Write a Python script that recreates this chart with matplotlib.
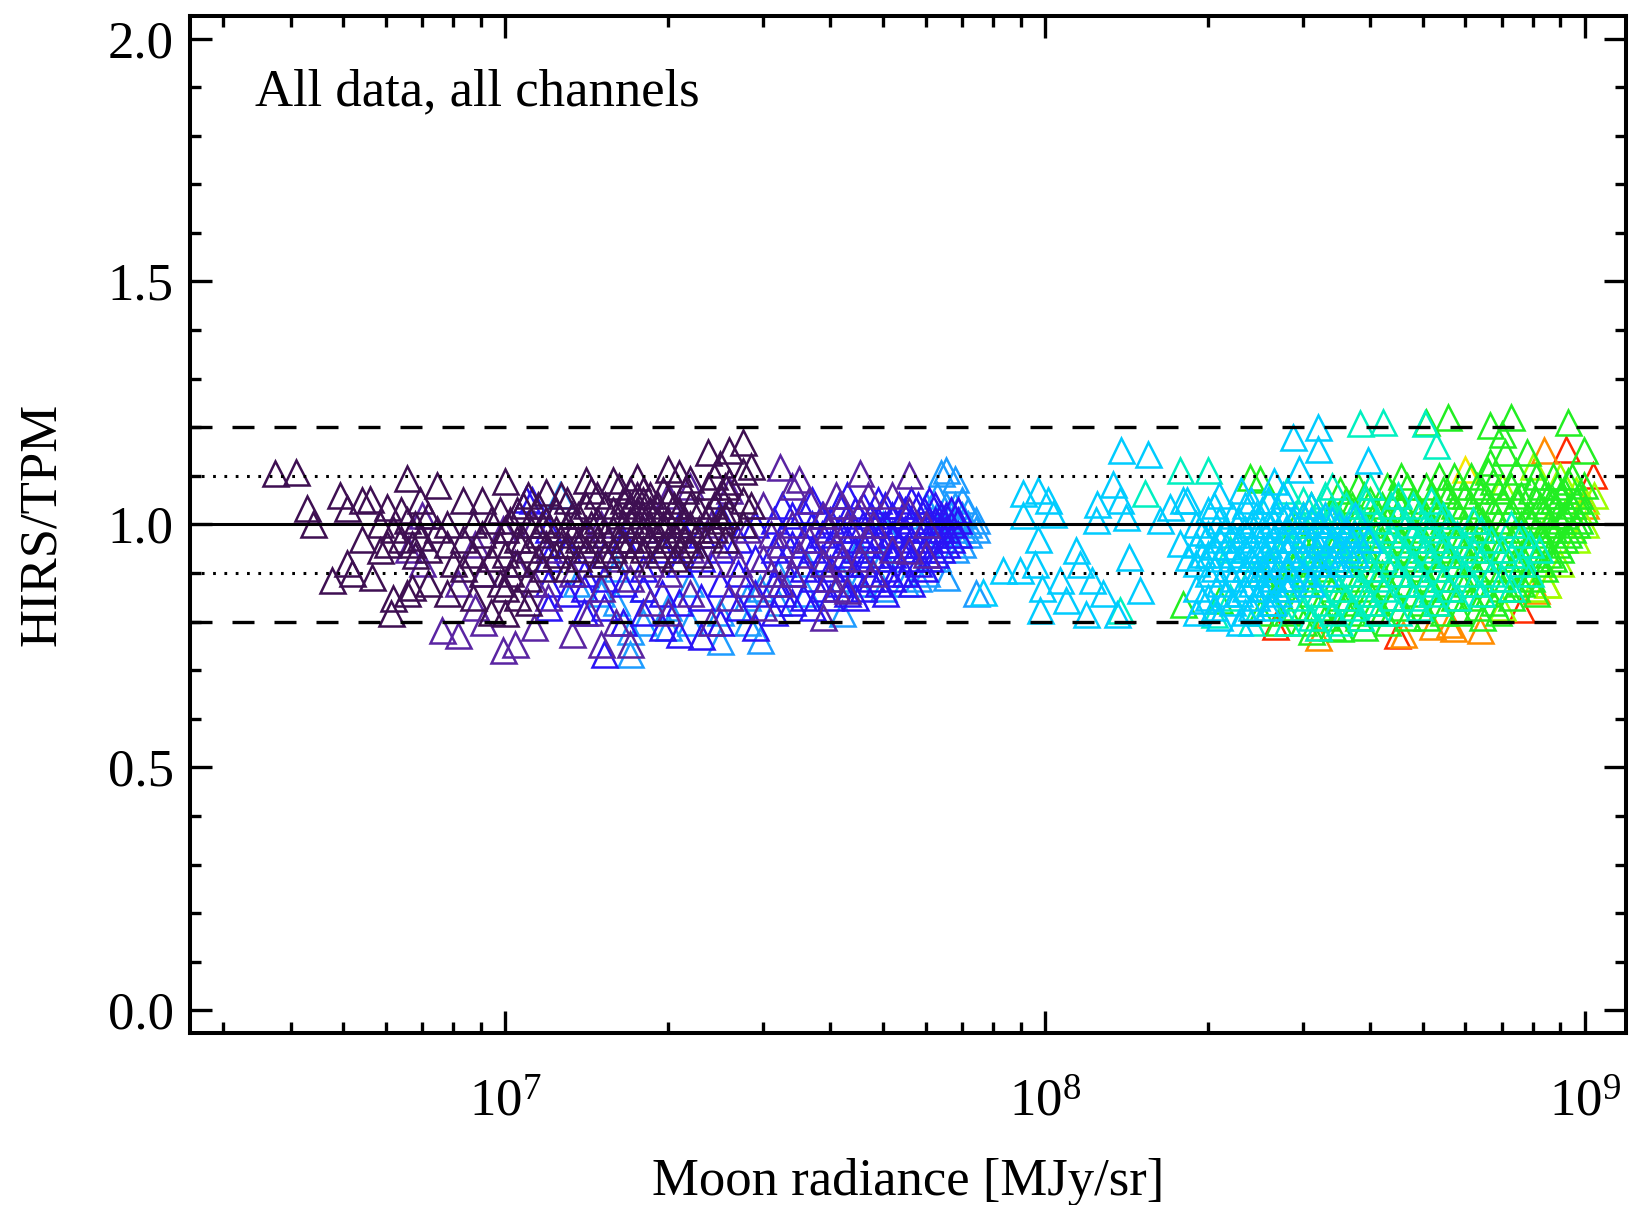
import matplotlib
matplotlib.use("Agg")
import matplotlib.pyplot as plt
from matplotlib.ticker import LogLocator, MultipleLocator, FormatStrFormatter

plt.rcParams['font.family'] = ['Liberation Serif', 'DejaVu Serif']

# ---------------- data ----------------
# Moon radiance in units of 1e6 MJy/sr  ->  list of HIRS/TPM ratios
dark_purple = {
    3.74: [1.106], 4.10: [1.108], 4.29: [1.033], 4.41: [1.002], 4.77: [0.885],
    4.94: [1.06], 5.08: [1.033, 0.92], 5.2: [0.90], 5.42: [1.05, 0.97],
    5.61: [1.053], 5.65: [0.892], 5.86: [0.947, 1.0], 6.03: [1.036, 0.96],
    6.15: [0.817], 6.2: [0.848, 0.99], 6.4: [0.97, 1.03], 6.56: [1.095, 0.858, 1.01],
    6.7: [0.872, 0.96], 6.81: [0.937, 1.0], 6.95: [1.05, 0.975], 7.2: [1.02, 0.95, 0.88],
    7.46: [1.081, 0.99], 7.8: [1.0, 0.96, 0.86], 8.0: [0.92], 8.36: [1.05, 0.97, 0.91],
    8.7: [1.0, 0.94, 0.85], 9.03: [1.05, 0.98, 0.90], 9.4: [1.01, 0.93, 0.82],
    9.77: [1.029, 0.96, 0.88], 10.0: [1.09, 0.99, 0.94, 0.87, 0.817],
    10.2: [1.01, 0.90], 10.5: [1.03, 0.97, 0.92, 0.85], 10.8: [0.97, 1.04],
    11.0: [1.06, 1.0, 0.95, 0.89, 0.84], 11.5: [1.04, 0.98, 0.93],
    11.7: [1.0, 0.91], 11.9: [1.067, 1.01, 0.96],
    12.4: [1.03, 0.99, 0.94], 12.7: [1.06, 0.96], 13.0: [1.05, 1.0, 0.96, 0.91],
    13.3: [1.02, 0.98], 13.6: [1.02, 0.97, 0.93], 14.1: [1.091, 1.04, 0.99, 0.95],
    14.4: [1.0, 1.07], 14.8: [1.06, 1.01, 0.97, 0.92], 15.3: [1.04, 0.98, 0.94],
    15.8: [1.091, 1.03, 0.99, 0.95], 16.2: [1.08, 1.02, 0.97],
    16.5: [1.05, 1.0, 0.96], 17.0: [1.07, 1.04, 1.01, 0.97, 0.93],
    17.5: [1.098, 1.06, 1.03, 1.0, 0.96], 18.0: [1.07, 1.05, 1.02, 0.99, 0.95],
    18.5: [1.06, 1.03, 1.0, 0.97], 19.2: [1.04, 1.01, 0.98, 0.94],
    19.6: [1.07, 1.0, 0.96], 20.0: [1.115, 1.05, 1.01, 0.97], 20.5: [1.04, 0.98, 0.93],
    21.0: [1.105, 1.03, 0.99, 0.95], 21.5: [1.07, 1.01, 0.97],
    22.0: [1.094, 1.04, 1.0, 0.96], 22.8: [1.03, 0.99, 0.94], 23.7: [1.149, 1.08, 1.02, 0.98],
    24.3: [1.1, 1.04, 0.99], 25.0: [1.125, 1.06, 1.01], 25.5: [1.08, 1.02, 0.97],
    26.0: [1.153, 1.09, 1.03], 27.5: [1.17, 1.11, 1.05, 1.0], 28.5: [1.12, 1.04],
}
violet = {
    6.6: [0.95], 7.0: [0.92, 1.02], 7.62: [0.782], 8.18: [0.772, 0.88],
    8.8: [0.96, 0.83], 9.1: [0.80, 0.90], 9.9: [0.741, 0.99], 10.4: [0.755, 0.92],
    11.3: [0.789, 1.0, 0.88], 12.0: [0.85, 0.95], 13.3: [0.775, 0.90, 1.02],
    14.3: [0.82, 0.96], 15.0: [0.755, 0.87, 1.0], 16.0: [0.80, 0.93],
    17.0: [0.755, 0.89], 18.5: [0.84, 0.92], 20.0: [0.82, 0.90, 1.06],
    22.0: [0.86, 0.95, 1.08], 24.0: [0.80, 0.92, 1.0], 26.0: [0.85, 0.96, 1.07],
    27.0: [0.92], 28.0: [0.88, 0.99], 30.0: [0.83, 0.93, 1.04], 31.0: [0.98, 0.90],
    32.2: [1.118, 0.96, 0.88], 34.0: [1.08, 1.0, 0.90], 35.0: [1.094, 0.94],
    36.5: [1.05, 0.97], 38.7: [0.81, 1.02, 0.92], 39.5: [0.99, 0.89],
    41.0: [1.06, 0.96, 0.87], 42.0: [1.04, 0.93], 43.0: [0.865, 1.0],
    45.3: [1.105, 1.03, 0.93], 47.0: [1.06, 0.97], 48.0: [1.0, 0.90],
    52.0: [1.06, 0.95], 56.0: [1.101, 0.947, 1.03], 60.0: [0.94, 1.0],
}
blue = {
    10.9: [1.053], 11.2: [1.05], 12.0: [0.83, 0.88, 0.93, 0.99], 13.0: [0.86, 0.95],
    14.0: [0.82, 0.87, 0.90, 0.98], 15.2: [0.734, 0.83, 0.89, 0.94], 16.5: [0.80, 0.88, 0.97],
    18.0: [0.82, 0.87, 0.91, 0.99], 19.5: [0.79, 0.86, 0.95], 21.0: [0.775, 0.84, 0.92, 1.0],
    23.0: [0.77, 0.85, 0.93, 0.98], 25.0: [0.80, 0.88, 0.95, 1.02],
    27.0: [0.83, 0.90, 0.97], 29.0: [0.79, 0.86, 0.93, 1.0],
    31.5: [0.82, 0.88, 0.95, 1.01], 32.5: [0.86, 0.92, 0.98, 1.04],
    34.0: [0.84, 0.90, 0.96, 1.02], 35.5: [0.85, 0.91, 0.97, 1.03],
    37.0: [0.83, 0.89, 0.95, 1.0, 1.05], 38.5: [0.87, 0.93, 0.98, 1.02],
    40.0: [0.85, 0.91, 0.96, 1.01], 41.5: [0.88, 0.94, 0.99, 1.04],
    43.0: [0.86, 0.92, 0.97, 1.02, 1.06], 44.5: [0.85, 0.90, 0.95, 0.99, 1.03],
    46.0: [0.87, 0.92, 0.96, 1.0, 1.04], 47.5: [0.89, 0.94, 0.98, 1.02],
    49.0: [0.88, 0.93, 0.97, 1.01, 1.05], 50.5: [0.86, 0.91, 0.96, 1.0, 1.04],
    52.0: [0.89, 0.94, 0.98, 1.02], 53.5: [0.90, 0.96, 1.0, 1.04],
    55.0: [0.90, 0.95, 0.99, 1.03], 56.5: [0.88, 0.93, 0.97, 1.01, 1.05],
    58.0: [0.92, 0.96, 1.0, 1.04], 59.5: [0.91, 0.95, 0.99, 1.03],
    61.0: [0.93, 0.97, 1.01, 1.05], 62.5: [0.94, 0.98, 1.01, 1.04],
    64.0: [0.95, 0.99, 1.02], 65.5: [0.96, 0.99, 1.02], 67.0: [0.97, 1.0, 1.03],
    69.0: [0.98, 1.01, 1.03],
}
light_blue = {
    12.6: [1.06], 13.5: [0.88], 15.0: [0.86], 16.0: [0.84, 0.91], 17.0: [0.734, 0.78],
    18.0: [0.80, 0.87], 20.0: [0.79, 0.83], 22.0: [0.80, 0.88], 25.0: [0.76, 0.82],
    28.0: [0.80, 0.85], 29.6: [0.762, 0.87], 32.0: [0.84, 0.90], 36.0: [0.86, 0.92],
    42.0: [0.817, 0.89], 45.0: [0.88, 0.95], 50.0: [0.87, 0.93, 1.0], 55.0: [0.88, 0.95, 1.02],
    58.0: [0.89], 60.0: [0.90, 0.96, 1.0, 1.04], 63.0: [0.93, 0.98, 1.02, 1.06],
    64.0: [1.105], 65.6: [1.112, 0.892, 1.0, 1.04], 68.0: [1.094, 0.95, 0.98, 1.01, 1.04],
    70.0: [0.96, 0.99, 1.02, 1.05], 72.0: [0.98, 1.0, 1.03], 74.5: [0.858, 0.99, 1.01],
}
cyan = {
    76.8: [0.861], 83.6: [0.906], 89.7: [0.906], 91.0: [1.064, 1.019], 95.7: [0.919],
    97.0: [1.071, 0.971], 97.7: [0.823], 98.5: [0.87], 101.0: [1.05], 103.5: [1.022],
    106.4: [0.885], 109.4: [0.844], 114.2: [0.947], 116.0: [0.919], 119.0: [0.816],
    122.0: [0.885], 124.0: [1.009], 124.5: [1.043], 128.0: [0.858], 133.6: [1.084],
    136.0: [0.816], 137.5: [1.05], 138.0: [1.153], 141.0: [1.016], 142.6: [0.933],
    149.7: [0.865], 155.0: [1.146], 163.0: [1.009], 170.0: [1.036], 177.6: [0.961],
    180.0: [1.05], 183.0: [1.05], 184.0: [0.933],
    190.0: [0.82, 0.87, 0.92, 0.96, 1.0], 195.0: [0.845, 0.94, 0.985],
    200.0: [0.85, 0.90, 0.94, 0.98, 1.03], 205.0: [0.83, 0.91, 0.955, 1.04],
    210.0: [0.81, 0.88, 0.93, 0.97, 1.01, 1.06], 216.0: [0.86, 0.91, 0.955, 0.99],
    222.0: [0.84, 0.89, 0.94, 0.98, 1.02], 228.0: [0.80, 0.86, 0.93, 0.97, 1.01],
    230.0: [1.07], 234.0: [0.82, 0.87, 0.91, 0.95, 0.99, 1.04],
    240.0: [0.83, 0.88, 0.93, 0.96, 1.0, 1.05], 246.0: [0.85, 0.90, 0.94, 0.98, 1.02],
    252.0: [0.87, 0.91, 0.95, 0.99, 1.03], 258.0: [0.83, 0.88, 0.92, 0.96, 1.0, 1.05],
    264.0: [0.84, 0.89, 0.93, 0.97, 1.01], 265.0: [1.09],
    270.0: [0.86, 0.91, 0.95, 0.99, 1.03], 275.0: [1.06], 279.0: [0.87, 0.91, 0.95, 0.99, 1.02],
    288.0: [1.18, 0.89, 0.93, 0.97, 1.01], 295.0: [1.115], 300.0: [0.90, 0.94, 0.98, 1.02],
    310.0: [0.88, 0.93, 0.97, 1.01, 1.04], 320.0: [1.201, 1.156, 0.92, 0.96, 1.0],
    330.0: [0.90, 0.94, 0.98, 1.02], 340.0: [0.93, 0.97, 1.01], 350.0: [0.92, 0.96, 1.0],
    360.0: [0.95, 0.99], 375.0: [0.94, 0.98, 1.02], 396.0: [1.132, 0.97],
}
aqua = {
    137.5: [0.823], 153.0: [1.064], 177.6: [1.112], 200.0: [1.112], 205.0: [0.816],
    220.0: [0.85, 0.95], 240.0: [0.80, 0.90, 1.0], 260.0: [0.84, 0.93, 1.05],
    280.0: [0.80, 0.88, 0.97, 1.07], 290.0: [0.85, 0.94, 1.02], 300.0: [0.83, 0.91, 1.0, 1.05],
    310.0: [0.81, 0.89, 0.97], 320.0: [0.79, 0.86, 0.94, 1.03],
    330.0: [0.84, 0.92, 1.0, 1.06], 340.0: [0.82, 0.89, 0.96, 1.02, 1.08],
    350.0: [0.80, 0.87, 0.95, 1.01], 360.0: [0.85, 0.92, 0.98, 1.04],
    370.0: [0.83, 0.90, 0.96, 1.02], 383.0: [1.208, 0.81, 0.88, 0.95, 1.01],
    392.0: [0.86, 0.93, 0.99, 1.05], 400.0: [0.84, 0.91, 0.97, 1.03, 1.08],
    412.0: [0.82, 0.89, 0.95, 1.01], 423.0: [1.211, 0.87, 0.93, 0.99],
    437.0: [0.85, 0.92, 0.98, 1.04], 450.0: [0.82, 0.90, 0.96, 1.02, 1.06],
    465.0: [0.88, 0.94, 1.0], 480.0: [0.85, 0.92, 0.98, 1.04],
    493.0: [0.83, 0.90, 0.97, 1.02], 505.0: [1.208, 0.88, 0.95, 1.0],
    518.0: [0.86, 0.93, 0.99, 1.05], 530.0: [1.163, 0.84, 0.91, 0.97, 1.03],
    545.0: [0.89, 0.96, 1.02], 560.0: [0.87, 0.94, 1.0], 580.0: [0.85, 0.92, 0.98],
    600.0: [0.90, 0.96], 620.0: [0.88, 0.95, 1.01], 640.0: [0.86, 0.93, 0.99],
    670.0: [0.90, 0.97], 700.0: [0.89, 0.95], 730.0: [0.87, 0.94, 1.0],
    760.0: [0.92, 0.98], 790.0: [0.90, 0.96], 820.0: [0.95],
}
green = {
    180.0: [0.837], 210.0: [0.844], 239.0: [1.098], 250.0: [1.094, 0.82, 0.90],
    262.0: [0.84, 0.91], 270.0: [0.80, 0.87, 0.95], 280.0: [0.82, 0.89, 0.97],
    290.0: [0.83, 0.92, 1.0], 300.0: [0.80, 0.88, 0.96, 1.02],
    310.0: [0.78, 0.86, 0.95, 1.04], 320.0: [0.83, 0.91, 1.0],
    330.0: [0.81, 0.89, 0.98], 340.0: [0.79, 0.87, 0.95, 1.03],
    351.0: [0.786, 0.85, 0.93, 1.01, 1.07], 360.0: [0.84, 0.92, 0.99, 1.05],
    370.0: [0.82, 0.90, 0.96, 1.04], 380.0: [0.81, 0.89, 0.97, 1.02, 1.08],
    390.0: [0.79, 0.87, 0.94, 1.0, 1.06], 400.0: [0.86, 0.93, 1.0, 1.05],
    410.0: [0.84, 0.91, 0.98, 1.03], 420.0: [0.82, 0.90, 0.97, 1.04],
    430.0: [0.80, 0.88, 0.95, 1.01, 1.08], 442.0: [0.85, 0.92, 0.99, 1.06],
    455.0: [0.83, 0.90, 0.97, 1.04, 1.1], 467.0: [0.81, 0.88, 0.95, 1.02, 1.08],
    480.0: [0.86, 0.93, 0.99, 1.05], 494.0: [0.84, 0.91, 0.97, 1.03],
    508.0: [1.211, 0.81, 0.89, 0.96, 1.02, 1.08], 521.0: [0.87, 0.94, 1.0, 1.06],
    535.0: [0.84, 0.91, 0.97, 1.03, 1.1], 546.0: [0.82, 0.89, 0.95, 1.01, 1.07],
    557.0: [1.221, 0.87, 0.94, 1.0, 1.06], 571.0: [0.85, 0.92, 0.98, 1.04, 1.1],
    585.0: [0.82, 0.89, 0.96, 1.02, 1.08], 600.0: [0.88, 0.94, 1.0, 1.06],
    615.0: [0.85, 0.92, 0.98, 1.04, 1.1], 630.0: [0.83, 0.90, 0.96, 1.02, 1.08],
    645.0: [0.81, 0.88, 0.95, 1.01, 1.07], 660.0: [0.86, 0.93, 0.99, 1.05, 1.11],
    667.0: [1.204, 1.129], 675.0: [0.84, 0.91, 0.97, 1.03, 1.09],
    688.0: [0.82, 0.89, 0.95, 1.01, 1.07], 700.0: [1.187, 0.87, 0.93, 0.99, 1.05],
    710.0: [1.149], 730.0: [1.221, 0.85, 0.91, 0.97, 1.03, 1.08],
    745.0: [0.87, 0.93, 0.99, 1.05, 1.11], 760.0: [0.88, 0.94, 1.0, 1.06],
    780.0: [1.149, 0.90, 0.96, 1.02], 795.0: [0.89, 0.95, 1.01, 1.07],
    810.0: [0.86, 0.93, 0.99, 1.05, 1.1], 825.0: [0.92, 0.98, 1.04, 1.08],
    840.0: [0.91, 0.97, 1.03], 855.0: [0.94, 1.0, 1.06], 870.0: [0.93, 0.99, 1.05, 1.1],
    885.0: [0.96, 1.02, 1.08], 900.0: [0.95, 1.01, 1.06], 915.0: [0.97, 1.02, 1.07],
    930.0: [1.211, 0.98, 1.03, 1.09], 945.0: [0.99, 1.04, 1.1], 960.0: [1.0, 1.05],
    975.0: [1.01, 1.06], 993.0: [1.153, 1.03, 1.081],
}
lime = {
    700.0: [0.83, 1.08], 800.0: [0.87, 1.12], 850.0: [0.878, 1.0], 900.0: [0.92, 1.1],
    960.0: [1.07, 0.97], 1000.0: [1.0, 1.05], 1040.0: [1.06],
}
yellow = {320.0: [0.789], 600.0: [1.115], 850.0: [0.878]}
orange = {
    320.0: [0.768], 460.0: [0.775], 520.0: [0.792], 560.0: [0.796], 570.0: [0.786],
    638.0: [0.782], 810.0: [0.865], 840.0: [1.153], 1000.0: [1.04],
}
red = {266.0: [0.792], 448.0: [0.772], 760.0: [0.827], 920.0: [1.156], 1035.0: [1.101]}

groups = [
    (light_blue, '#1e9cff'), (blue, '#2a14f5'), (violet, '#5a24a2'), (dark_purple, '#3e0f52'),
    (red, '#ff2a00'), (orange, '#ff8c00'), (yellow, '#f5e600'), (lime, '#9cff00'),
    (green, '#22ee22'), (aqua, '#00f0c0'), (cyan, '#00ccff'),
]
ref_solid = [1.0]
ref_dotted = [0.9, 1.1]
ref_dashed = [0.8, 1.2]
RAD_UNIT = 1e6

# ---------------- plot ----------------
fig = plt.figure(figsize=(16.31, 12.05), dpi=100)
ax = fig.add_axes([0.1167, 0.1425, 0.8801, 0.8445])

for grp, col in groups:
    xs, ys = [], []
    for xv, yl in grp.items():
        for yv in yl:
            xs.append(xv * RAD_UNIT)
            ys.append(yv)
    ax.plot(xs, ys, linestyle='none', marker='^', markersize=18,
            markerfacecolor='none', markeredgecolor=col, markeredgewidth=1.8, zorder=2)

for v in ref_solid:
    ax.axhline(v, color='black', lw=2.2, zorder=5)
for v in ref_dotted:
    ax.axhline(v, color='black', lw=2.2, ls=(0, (0.9, 2.8)), zorder=5)
for v in ref_dashed:
    ax.axhline(v, color='black', lw=2.4, ls=(0, (6.6, 6.0)), zorder=5)

ax.set_xscale('log')
ax.set_xlim(2.608e6, 1.189e9)
ax.set_ylim(-0.047, 2.047)

ax.yaxis.set_major_locator(MultipleLocator(0.5))
ax.yaxis.set_minor_locator(MultipleLocator(0.1))
ax.yaxis.set_major_formatter(FormatStrFormatter('%.1f'))
ax.xaxis.set_major_locator(LogLocator(base=10, numticks=10))
ax.xaxis.set_minor_locator(LogLocator(base=10, subs=range(2, 10), numticks=20))

for s in ax.spines.values():
    s.set_linewidth(2.9)
ax.tick_params(which='both', direction='in', top=True, right=True, width=2.4)
ax.tick_params(which='major', length=16, labelsize=38)
ax.tick_params(axis='y', which='major', pad=12)
ax.tick_params(axis='x', which='major', pad=33)
ax.tick_params(which='minor', length=8)

ax.set_xlabel('Moon radiance [MJy/sr]', fontsize=38, labelpad=22)
ax.set_ylabel('HIRS/TPM', fontsize=38, labelpad=30)
ax.text(0.045, 0.925, 'All data, all channels', transform=ax.transAxes,
        fontsize=38, va='center', ha='left')

fig.savefig('out.png', dpi=100)
